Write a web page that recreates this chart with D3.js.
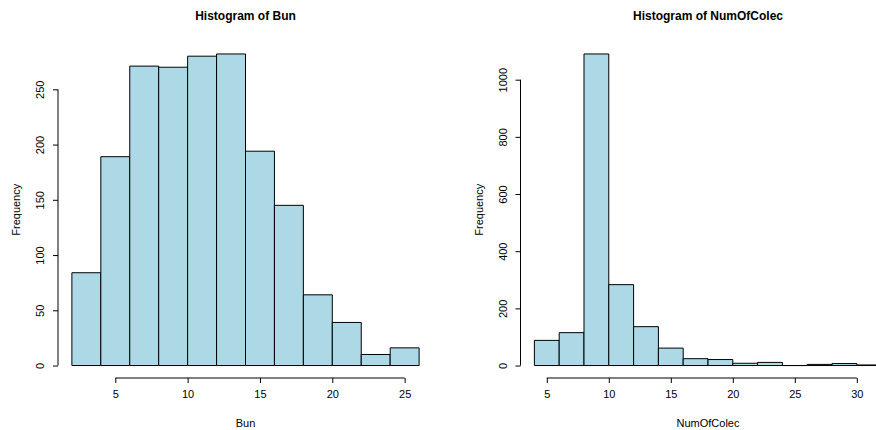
<!DOCTYPE html>
<html>
<head>
<meta charset="utf-8">
<script src="https://cdn.jsdelivr.net/npm/d3@7"></script>
<style>
  body { margin: 0; background: #fff; }
  text { font-family: "Liberation Sans", Arial, sans-serif; fill: #000; }
</style>
</head>
<body>
<div id="chart"></div>
<script>
// histogram bins
const bunBreaks = [2, 4, 6, 8, 10, 12, 14, 16, 18, 20, 22, 24, 26];
const bunCounts = [84, 189, 271, 270, 280, 282, 194, 145, 64, 39, 10, 16];
const bunXTicks = [5, 10, 15, 20, 25];
const bunYTicks = [0, 50, 100, 150, 200, 250];

const colecBreaks = [4, 6, 8, 10, 12, 14, 16, 18, 20, 22, 24, 26, 28, 30, 32];
const colecCounts = [88, 115, 1090, 283, 136, 61, 24, 21, 8, 11, 0, 4, 7, 2];
const colecXTicks = [5, 10, 15, 20, 25, 30];
const colecYTicks = [0, 200, 400, 600, 800, 1000];

(function () {
  const W = 876, H = 430;

  const svg = d3.select("#chart")
    .append("svg")
    .attr("width", W)
    .attr("height", H);

  // R style: plot region, axes pushed to the region edges, 4% padding on the data range
  function histogram(opts) {
    const bins = opts.counts.map((c, i) => ({ x0: opts.breaks[i], x1: opts.breaks[i + 1], n: c }));
    const xlo = opts.breaks[0], xhi = opts.breaks[opts.breaks.length - 1];
    const ymax = d3.max(opts.counts);
    const padX = (xhi - xlo) * 0.04, padY = ymax * 0.04;

    const x = d3.scaleLinear().domain([xlo - padX, xhi + padX]).range([opts.left, opts.right]);
    const y = d3.scaleLinear().domain([-padY, ymax + padY]).range([opts.bottom, opts.top]);

    const g = svg.append("g");

    // paths instead of rects so empty bins still show as a line on the baseline
    g.selectAll("path.bin")
      .data(bins)
      .enter().append("path")
      .attr("class", "bin")
      .attr("d", d => "M" + x(d.x0) + "," + y(0) + "V" + y(d.n) + "H" + x(d.x1) + "V" + y(0) + "Z")
      .attr("fill", "#add8e6")
      .attr("stroke", "#000")
      .attr("stroke-width", 1);

    // x axis
    const xAxis = g.append("g")
      .attr("transform", "translate(0," + opts.bottom + ")")
      .call(d3.axisBottom(x).tickValues(opts.xTicks).tickSize(5).tickPadding(7).tickSizeOuter(0));
    xAxis.select(".domain").attr("d", "M" + x(opts.xTicks[0]) + ",0H" + x(opts.xTicks[opts.xTicks.length - 1]));

    // y axis
    const yAxis = g.append("g")
      .attr("transform", "translate(" + opts.left + ",0)")
      .call(d3.axisLeft(y).tickValues(opts.yTicks).tickSize(5).tickFormat(d3.format("d")));
    yAxis.select(".domain").attr("d", "M0," + y(opts.yTicks[0]) + "V" + y(opts.yTicks[opts.yTicks.length - 1]));
    yAxis.selectAll(".tick text")
      .attr("x", null).attr("dy", null)
      .attr("text-anchor", "middle")
      .attr("transform", "translate(-14,0) rotate(-90)");

    svg.selectAll(".tick text").attr("font-size", 11).attr("font-family", "Liberation Sans, Arial, sans-serif");
    svg.selectAll(".domain, .tick line").attr("stroke", "#000");

    const mid = (opts.left + opts.right) / 2;
    g.append("text")
      .attr("x", mid).attr("y", 20)
      .attr("text-anchor", "middle")
      .attr("font-size", 12).attr("font-weight", "bold")
      .text(opts.title);

    g.append("text")
      .attr("x", x((xlo + xhi) / 2)).attr("y", 427)
      .attr("text-anchor", "middle")
      .attr("font-size", 11)
      .text(opts.xlab);

    g.append("text")
      .attr("transform", "translate(" + (opts.left - 38) + "," + ((opts.top + opts.bottom) / 2) + ") rotate(-90)")
      .attr("text-anchor", "middle")
      .attr("font-size", 11)
      .text("Frequency");
  }

  histogram({
    breaks: bunBreaks, counts: bunCounts, xTicks: bunXTicks, yTicks: bunYTicks,
    left: 58, right: 433, top: 41.5, bottom: 378,
    title: "Histogram of Bun", xlab: "Bun"
  });

  histogram({
    breaks: colecBreaks, counts: colecCounts, xTicks: colecXTicks, yTicks: colecYTicks,
    left: 520.5, right: 895.5, top: 41.5, bottom: 378,
    title: "Histogram of NumOfColec", xlab: "NumOfColec"
  });
})();
</script>
</body>
</html>
